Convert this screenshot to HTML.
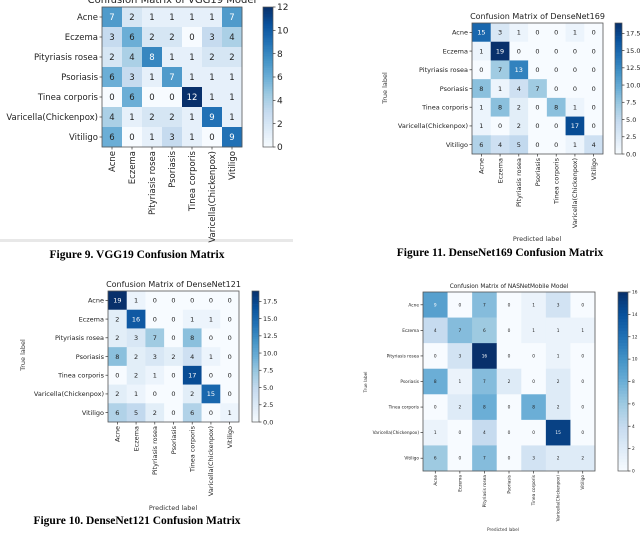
<!DOCTYPE html>
<html><head><meta charset="utf-8"><style>
html,body{margin:0;padding:0;background:#fff;}
svg{display:block;font-family:"DejaVu Sans","Liberation Sans",sans-serif;}
.cap{font-family:"Liberation Serif",serif;font-weight:bold;font-size:11.5px;fill:#000;}
</style></head><body>
<svg id="s" width="640" height="533" viewBox="0 0 640 533" xmlns="http://www.w3.org/2000/svg">
<rect x="0" y="239" width="293" height="3" fill="#e8e8e8"/>
<text class="cap" x="137" y="258" text-anchor="middle">Figure 9. VGG19 Confusion Matrix</text>
<text class="cap" x="500" y="256" text-anchor="middle">Figure 11. DenseNet169 Confusion Matrix</text>
<text class="cap" x="137" y="524" text-anchor="middle">Figure 10. DenseNet121 Confusion Matrix</text>
</svg>
<script>
const classes=["Acne","Eczema","Pityriasis rosea","Psoriasis","Tinea corporis","Varicella(Chickenpox)","Vitiligo"];
const vggValues=[[7,2,1,1,1,1,7],[3,6,2,2,0,3,4],[2,4,8,1,1,2,2],[6,3,1,7,1,1,1],[0,6,0,0,12,1,1],[4,1,2,2,1,9,1],[6,0,1,3,1,0,9]];
const vggTicks=["0","2","4","6","8","10","12"];
const d169Values=[[15,3,1,0,0,1,0],[1,19,0,0,0,0,0],[0,7,13,0,0,0,0],[8,1,4,7,0,0,0],[1,8,2,0,8,1,0],[1,0,2,0,0,17,0],[6,4,5,0,0,1,4]];
const d169Ticks=["0.0","2.5","5.0","7.5","10.0","12.5","15.0","17.5"];
const d121Values=[[19,1,0,0,0,0,0],[2,16,0,0,1,1,0],[2,3,7,0,8,0,0],[8,2,3,2,4,1,0],[0,2,1,0,17,0,0],[2,1,0,0,2,15,0],[6,5,2,0,6,0,1]];
const d121Ticks=d169Ticks;
const nasValues=[[9,0,7,0,1,3,0],[4,7,6,0,1,1,1],[0,3,16,0,0,1,0],[8,1,7,2,0,2,0],[0,2,8,0,8,2,0],[1,0,4,0,0,15,0],[6,0,7,0,3,2,2]];
const nasTicks=["0","2","4","6","8","10","12","14","16"];

const NS="http://www.w3.org/2000/svg";
const svg=document.getElementById('s');
const stops=["#f7fbff","#deebf7","#c6dbef","#9ecae1","#6baed6","#4292c6","#2171b5","#08519c","#08306b"];
function hex(h){return [1,3,5].map(i=>parseInt(h.substr(i,2),16));}
function blues(t){t=Math.max(0,Math.min(1,t));const p=t*8,i=Math.min(7,Math.floor(p)),f=p-i;const a=hex(stops[i]),b=hex(stops[i+1]);return "rgb("+a.map((v,k)=>Math.round(v+(b[k]-v)*f)).join(",")+")";}
function el(tag,attrs,parent){const e=document.createElementNS(NS,tag);for(const k in attrs)e.setAttribute(k,attrs[k]);(parent||svg).appendChild(e);return e;}
function txt(s,attrs,parent){const e=el('text',attrs,parent);e.textContent=s;return e;}

function drawMatrix(o){
  const g=el('g',{});
  
  
  const n=classes.length,cw=(o.x1-o.x0)/n,ch=(o.y1-o.y0)/n;
  const xs=i=>o.x0+i*cw, ys=i=>o.y0+i*ch;
  const vmax=o.vmax;
  if(o.title){const t=txt(o.title,{x:(o.x0+o.x1)/2,y:o.y0-4,'text-anchor':'middle','font-size':o.fs+1.5,fill:'#222'},g);
    }
  o.values.forEach((row,r)=>row.forEach((v,c)=>{
    const rc=el('rect',{x:xs(c),y:ys(r),width:cw+0.3,height:ch+0.3,fill:blues(v/vmax)},g);
    
    const t=txt(String(v),{x:xs(c)+cw/2,y:ys(r)+ch/2+o.fs*0.35,'text-anchor':'middle','font-size':o.fs,fill:v>vmax/2?'#fff':'#222'},g);
    
  }));
  const fr=el('rect',{x:o.x0,y:o.y0,width:o.x1-o.x0,height:o.y1-o.y0,fill:'none',stroke:'#555','stroke-width':0.8},g);
  
  classes.forEach((c,i)=>{
    el('line',{x1:o.x0-2.5,x2:o.x0,y1:ys(i)+ch/2,y2:ys(i)+ch/2,stroke:'#333','stroke-width':0.7},g);
    const t=txt(c,{x:o.x0-4,y:ys(i)+ch/2+o.fs*0.35,'text-anchor':'end','font-size':o.fs,fill:'#222'},g);
    
    const cx=xs(i)+cw/2;
    el('line',{x1:cx,x2:cx,y1:o.y1,y2:o.y1+2.5,stroke:'#333','stroke-width':0.7},g);
    const t2=txt(c,{x:0,y:0,'text-anchor':'end','font-size':o.fs,fill:'#222',transform:`translate(${cx+o.fs*0.35},${o.y1+4}) rotate(-90)`},g);
    
  });
  // colorbar
  const cb=el('g',{},g);
  
  const steps=60,bh=(o.y1-o.y0)/steps;
  for(let i=0;i<steps;i++)el('rect',{x:o.cbx,y:o.y1-(i+1)*bh,width:o.cbw,height:bh+0.3,fill:blues((i+0.5)/steps)},cb);
  el('rect',{x:o.cbx,y:o.y0,width:o.cbw,height:o.y1-o.y0,fill:'none',stroke:'#555','stroke-width':0.7},cb);
  o.ticks.forEach(tk=>{
    const y=o.y1-(parseFloat(tk)/vmax)*(o.y1-o.y0);
    el('line',{x1:o.cbx+o.cbw,x2:o.cbx+o.cbw+2.5,y1:y,y2:y,stroke:'#333','stroke-width':0.7},cb);
    const t=txt(tk,{x:o.cbx+o.cbw+4,y:y+o.tfs*0.35,'font-size':o.tfs,fill:'#222'},cb);
    
  });
  if(o.ylab){const t=txt('True label',{x:0,y:0,'text-anchor':'middle','font-size':o.fs,fill:'#333',transform:`translate(${o.ylab[0]},${o.ylab[1]}) rotate(-90)`},g);
    }
  if(o.xlab){const t=txt('Predicted label',{x:o.xlab[0],y:o.xlab[1],'text-anchor':'middle','font-size':o.fs,fill:'#333'},g);
    }
}
drawMatrix({name:'vgg19-matrix',values:vggValues,ticks:vggTicks,vmax:12,x0:102,x1:242,y0:7,y1:147,fs:8.5,tfs:9,cbx:263,cbw:10,title:'Confusion Matrix of VGG19 Model'});
drawMatrix({name:'densenet169-matrix',values:d169Values,ticks:d169Ticks,vmax:19,x0:472,x1:603,y0:23,y1:154,fs:6.5,tfs:6.5,cbx:615,cbw:7,title:'Confusion Matrix of DenseNet169',ylab:[387,88],xlab:[537,241]});
drawMatrix({name:'densenet121-matrix',values:d121Values,ticks:d121Ticks,vmax:19,x0:108,x1:239,y0:291,y1:422,fs:6.5,tfs:6.5,cbx:252,cbw:7,title:'Confusion Matrix of DenseNet121',ylab:[25,355],xlab:[173,510]});
drawMatrix({name:'nasnet-matrix',values:nasValues,ticks:nasTicks,vmax:16,x0:423,x1:595,y0:292,y1:471,fs:4.3,tfs:4.3,cbx:618,cbw:10,title:'Confusion Matrix of NASNetMobile Model',ylab:[367,382],xlab:[503,531]});
</script>
</body></html>
